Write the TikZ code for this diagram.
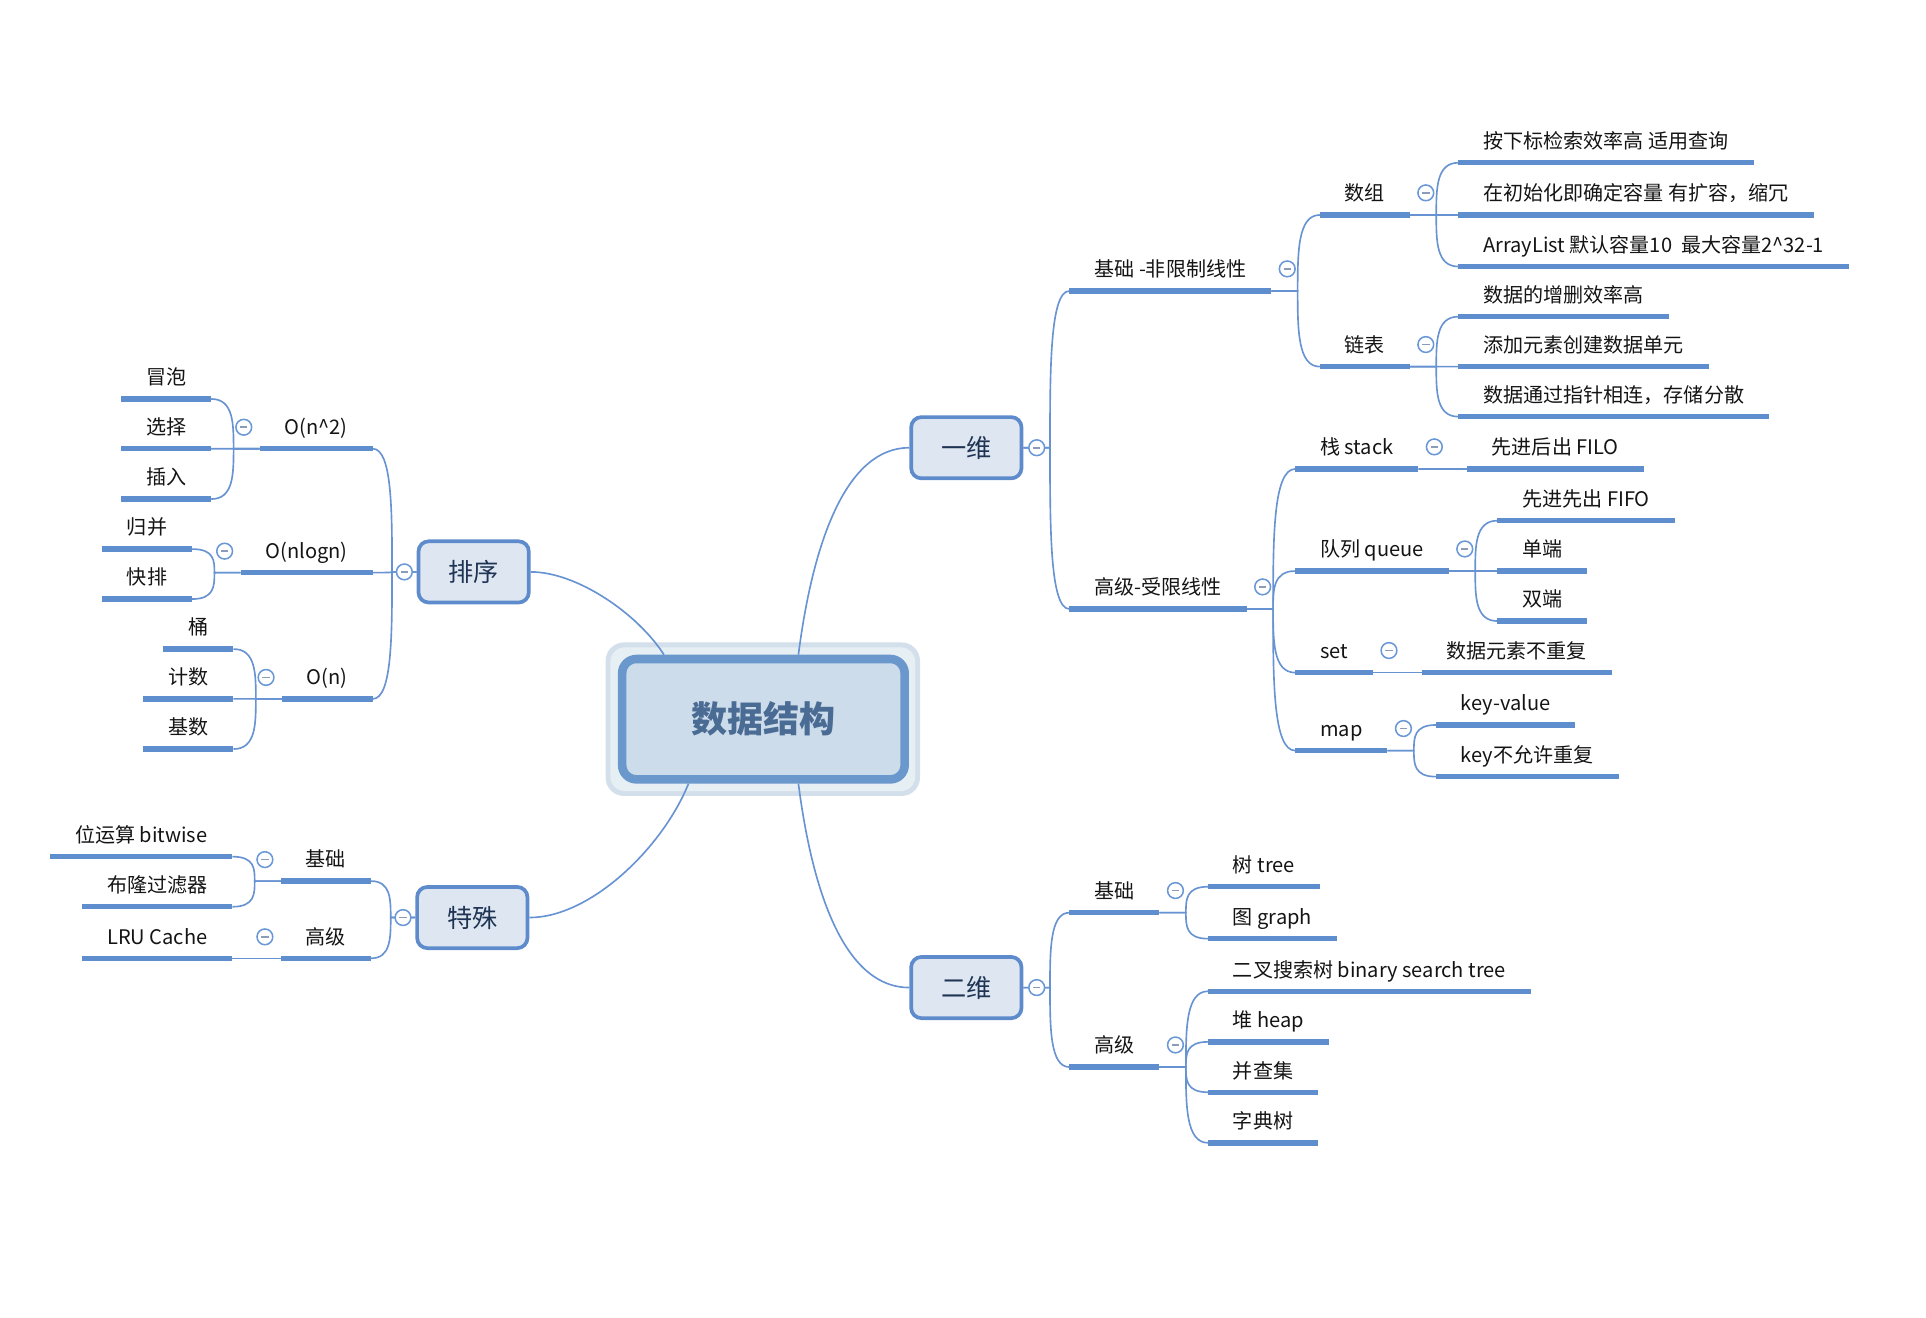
\documentclass[tikz,border=0pt]{standalone}
\usepackage{fontspec}
\setmainfont{Noto Sans CJK SC}
\usetikzlibrary{calc,backgrounds}
\definecolor{dsUnder}{HTML}{5F8ECF}
\definecolor{dsLink}{HTML}{6893D2}
\definecolor{dsInk}{HTML}{141414}
\definecolor{dsBoxFill}{HTML}{DDE6F1}
\definecolor{dsBoxDraw}{HTML}{5E8BCC}
\definecolor{dsNavy}{HTML}{1F3453}
\definecolor{dsRootFill}{HTML}{CCDCEA}
\definecolor{dsRootDraw}{HTML}{6A98CC}
\definecolor{dsRootInk}{HTML}{4A6B93}
\definecolor{dsGlow}{HTML}{D3DFEA}
\definecolor{dsGlowIn}{HTML}{E6EFF4}
\definecolor{dsFold}{HTML}{6A98D6}
\definecolor{dsFoldDash}{HTML}{8A9CB8}
\tikzset{
  ds topic/.style={font=\fontsize{9.8}{11}\selectfont, text=dsInk, inner xsep=12pt, inner ysep=0pt, text height=9pt, text depth=6.7pt},
  ds right/.style={ds topic, anchor=south west},
  ds left/.style={ds topic, anchor=south east},
  ds underline/.style={draw=dsUnder, line width=2.6pt},
  ds link/.style={draw=dsLink, line width=0.8pt},
  ds fold/.style={circle, draw=dsFold, fill=white, line width=0.75pt, minimum size=7.7pt, inner sep=0pt,
    path picture={\draw[dsFoldDash, line width=0.8pt] ([xshift=-1.8pt]path picture bounding box.center) -- ([xshift=1.8pt]path picture bounding box.center);}},
  ds box/.style={draw=dsBoxDraw, fill=dsBoxFill, line width=1.8pt, rounded corners=5pt, minimum width=53.9pt, minimum height=29.9pt, inner sep=0pt,
    font=\fontsize{12.3}{14}\selectfont, text=dsNavy, text height=10.6pt, text depth=1.2pt},
  ds root/.style={draw=dsRootDraw, fill=dsRootFill, line width=4.2pt, rounded corners=7pt, minimum width=138pt, minimum height=58.8pt, inner sep=0pt,
    font=\fontsize{17.6}{20}\selectfont\bfseries, text=dsRootInk, text height=15.1pt, text depth=1.8pt},
}
\begin{document}
\begin{tikzpicture}[x=0.6pt, y=-0.6pt]
  \useasboundingbox (0,0) rectangle (1568,1073);

  % Central topic with its halo
  \node[ds root] (root) at (621.5,585.5) {数据结构};
  \begin{scope}[on background layer]
    \fill[dsGlow, rounded corners=9pt] ($(root.south west)+(-10,10)$) rectangle ($(root.north east)+(9,-10)$);
    \fill[dsGlowIn, rounded corners=7pt] ($(root.south west)+(-6,6)$) rectangle ($(root.north east)+(5,-6)$);
  \end{scope}

  % Main topics
  \node[ds box] (yw) at (786.7,364.5) {一维};
  \node[ds box] (ew) at (786.7,804) {二维};
  \node[ds box] (px) at (385.6,465.6) {排序};
  \node[ds box] (ts) at (384.5,747) {特殊};

  % 一维
  \node[ds right] (b1) at ($(yw.east)+(37.5,-127.6)$) {基础 -非限制线性};
  \node[ds right] (b2) at ($(yw.east)+(37.5,131.3)$) {高级-受限线性};
  \node[ds right] (arr) at ($(b1.south east)+(39.5,-61.9)$) {数组};
  \node[ds right] (lst) at ($(b1.south east)+(39.5,61.6)$) {链表};
  \node[ds right] (arr1) at ($(arr.south east)+(39.5,-42.5)$) {按下标检索效率高 适用查询};
  \node[ds right] (arr2) at ($(arr.south east)+(39.5,0)$) {在初始化即确定容量 有扩容，缩冗};
  \node[ds right] (arr3) at ($(arr.south east)+(39.5,42)$) {ArrayList 默认容量10\ \ 最大容量2\textasciicircum{}32-1};
  \node[ds right] (lst1) at ($(lst.south east)+(39.5,-40.7)$) {数据的增删效率高};
  \node[ds right] (lst2) at ($(lst.south east)+(39.5,0)$) {添加元素创建数据单元};
  \node[ds right] (lst3) at ($(lst.south east)+(39.5,40.7)$) {数据通过指针相连，存储分散};
  \node[ds right] (stk) at ($(b2.south east)+(39.5,-114)$) {栈 stack};
  \node[ds right] (que) at ($(b2.south east)+(39.5,-30.9)$) {队列 queue};
  \node[ds right] (st) at ($(b2.south east)+(39.5,51.8)$) {set};
  \node[ds right] (mp) at ($(b2.south east)+(39.5,115.3)$) {map};
  \node[ds right] (stk1) at ($(stk.south east)+(39.5,0)$) {先进后出 FILO};
  \node[ds right] (que1) at ($(que.south east)+(39.5,-41)$) {先进先出 FIFO};
  \node[ds right] (que2) at ($(que.south east)+(39.5,0)$) {单端};
  \node[ds right] (que3) at ($(que.south east)+(39.5,40.7)$) {双端};
  \node[ds right] (st1) at ($(st.south east)+(39.5,0)$) {数据元素不重复};
  \node[ds right] (mp1) at ($(mp.south east)+(39.5,-20.9)$) {key-value};
  \node[ds right] (mp2) at ($(mp.south east)+(39.5,21.2)$) {key不允许重复};

  % 二维
  \node[ds right] (c1) at ($(ew.east)+(37.5,-61)$) {基础};
  \node[ds right] (c2) at ($(ew.east)+(37.5,64.7)$) {高级};
  \node[ds right] (c11) at ($(c1.south east)+(39.5,-21.1)$) {树 tree};
  \node[ds right] (c12) at ($(c1.south east)+(39.5,21.2)$) {图 graph};
  \node[ds right] (c21) at ($(c2.south east)+(39.5,-61.7)$) {二叉搜索树 binary search tree};
  \node[ds right] (c22) at ($(c2.south east)+(39.5,-20.5)$) {堆 heap};
  \node[ds right] (c23) at ($(c2.south east)+(39.5,20.5)$) {并查集};
  \node[ds right] (c24) at ($(c2.south east)+(39.5,61.7)$) {字典树};

  % 排序
  \node[ds left] (o2) at ($(px.west)+(-35.8,-100.3)$) {O(n\textasciicircum{}2)};
  \node[ds left] (onl) at ($(px.west)+(-35.8,0.6)$) {O(nlogn)};
  \node[ds left] (o1) at ($(px.west)+(-35.8,103.4)$) {O(n)};
  \node[ds left] (o21) at ($(o2.south west)+(-39.5,-40.5)$) {冒泡};
  \node[ds left] (o22) at ($(o2.south west)+(-39.5,0)$) {选择};
  \node[ds left] (o23) at ($(o2.south west)+(-39.5,41)$) {插入};
  \node[ds left] (onl1) at ($(onl.south west)+(-39.5,-19.2)$) {归并};
  \node[ds left] (onl2) at ($(onl.south west)+(-39.5,21.5)$) {快排};
  \node[ds left] (o11) at ($(o1.south west)+(-39.5,-40.6)$) {桶};
  \node[ds left] (o12) at ($(o1.south west)+(-39.5,0)$) {计数};
  \node[ds left] (o13) at ($(o1.south west)+(-39.5,40.8)$) {基数};

  % 特殊
  \node[ds left] (d1) at ($(ts.west)+(-36.1,-29.7)$) {基础};
  \node[ds left] (d2) at ($(ts.west)+(-36.1,33.2)$) {高级};
  \node[ds left] (d11) at ($(d1.south west)+(-39.5,-19.9)$) {位运算 bitwise};
  \node[ds left] (d12) at ($(d1.south west)+(-39.5,20.9)$) {布隆过滤器};
  \node[ds left] (d21) at ($(d2.south west)+(-39.5,0)$) {LRU Cache};

  % Links from the centre
  \draw[ds link] ($(root.north)+(28.5,0)$) .. controls +(12,-93) and +(-51,0) .. (yw.west);
  \draw[ds link] ($(root.south)+(28.5,0)$) .. controls +(12,93) and +(-51,0) .. (ew.west);
  \draw[ds link] ($(root.north)+(-81,0)$) .. controls +(-21,-33) and +(38,0) .. (px.east);
  \draw[ds link] ($(root.south)+(-61,0)$) .. controls +(-21,52) and +(50,0) .. (ts.east);

  % Forks, right side
  \foreach \p/\k in {yw/b1, yw/b2, ew/c1, ew/c2}
    \draw[ds link] (\p.east) -- ++(21.7,0) coordinate (f)
      .. controls ($(f)!0.5!(f |- \k.south west)$) and (f |- \k.south west) .. (\k.south west);
  \foreach \p/\k in {b1/arr, b1/lst, arr/arr1, arr/arr2, arr/arr3, lst/lst1, lst/lst2, lst/lst3,
                     b2/stk, b2/que, b2/st, b2/mp, stk/stk1, que/que1, que/que2, que/que3, st/st1, mp/mp1, mp/mp2,
                     c1/c11, c1/c12, c2/c21, c2/c22, c2/c23, c2/c24}
    \draw[ds link] (\p.south east) -- ++(21.5,0) coordinate (f)
      .. controls ($(f)!0.5!(f |- \k.south west)$) and (f |- \k.south west) .. (\k.south west);

  % Forks, left side
  \foreach \p/\k in {px/o2, px/onl, px/o1, ts/d1, ts/d2}
    \draw[ds link] (\p.west) -- ++(-20,0) coordinate (f)
      .. controls ($(f)!0.5!(f |- \k.south east)$) and (f |- \k.south east) .. (\k.south east);
  \foreach \p/\k in {o2/o21, o2/o22, o2/o23, onl/onl1, onl/onl2, o1/o11, o1/o12, o1/o13, d1/d11, d1/d12, d2/d21}
    \draw[ds link] (\p.south west) -- ++(-21.3,0) coordinate (f)
      .. controls ($(f)!0.5!(f |- \k.south east)$) and (f |- \k.south east) .. (\k.south east);

  % Underlines
  \foreach \n in {b1,b2,arr,arr1,arr2,arr3,lst,lst1,lst2,lst3,stk,stk1,que,que1,que2,que3,st,st1,mp,mp1,mp2,
                  c1,c11,c12,c2,c21,c22,c23,c24,o2,o21,o22,o23,onl,onl1,onl2,o1,o11,o12,o13,d1,d11,d12,d2,d21}
    \draw[ds underline] (\n.south west) -- (\n.south east);

  % Fold buttons
  \foreach \n in {yw,ew}
    \node[ds fold] (fold-\n) at ($(\n.east)+(10.9,0)$) {};
  \foreach \n in {px,ts}
    \node[ds fold] (fold-\n) at ($(\n.west)+(-10,0)$) {};
  \foreach \n in {b1,b2,arr,lst,stk,que,st,mp,c1,c2}
    \node[ds fold] (fold-\n) at ($(\n.south east)+(13,-18)$) {};
  \foreach \n in {o2,onl,o1,d1,d2}
    \node[ds fold] (fold-\n) at ($(\n.south west)+(-13,-17.5)$) {};
\end{tikzpicture}
\end{document}
